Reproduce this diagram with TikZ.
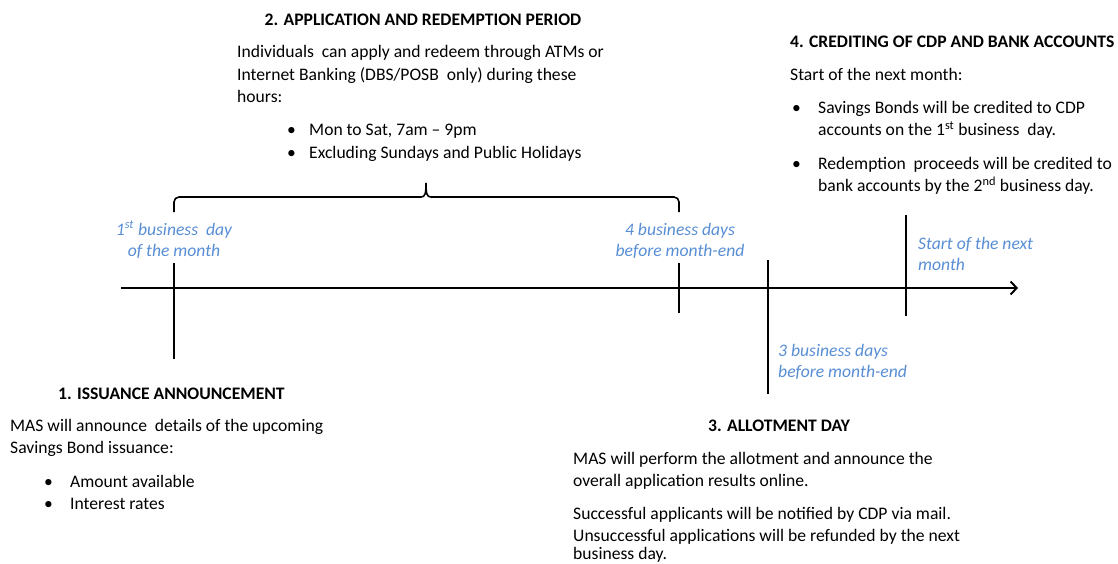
\documentclass[tikz,border=0pt]{standalone}
\usepackage{fontspec}
\setmainfont{Carlito}
\usetikzlibrary{arrows.meta}
\definecolor{lblue}{RGB}{88,142,213}
\begin{document}
\begin{tikzpicture}[x=1pt,y=-1pt,
  txt/.style={inner sep=0pt, anchor=base west, font=\fontsize{17.6}{20}\selectfont},
  ttl/.style={txt, font=\fontsize{17.6}{20}\selectfont\bfseries},
  lbl/.style={inner sep=0pt, anchor=base, font=\fontsize{17.6}{20}\selectfont\itshape, text=lblue},
  lbll/.style={lbl, anchor=base west},
  axisline/.style={line width=2pt},
  tickline/.style={line width=2pt},
  bracel/.style={line width=1.6pt},
]
\useasboundingbox (0,0) rectangle (1118,564);

% axis
\coordinate (ax0) at (121,288);
\coordinate (ax1) at (1018,288);
\draw[axisline, -{Straight Barb[length=6pt,width=13pt,line width=2pt]}] (ax0) -- (ax1);

% ticks
\coordinate (t1a) at (174,263); \coordinate (t1b) at (174,359);
\coordinate (t2a) at (679,263); \coordinate (t2b) at (679,313);
\coordinate (t3a) at (768,260); \coordinate (t3b) at (768,394);
\coordinate (t4a) at (906,215); \coordinate (t4b) at (906,316);
\draw[tickline] (t1a) -- (t1b);
\draw[tickline] (t2a) -- (t2b);
\draw[tickline] (t3a) -- (t3b);
\draw[tickline] (t4a) -- (t4b);

% brace
\coordinate (bl) at (174,212);
\coordinate (br) at (679,212);
\coordinate (bt) at (426,183);
\draw[bracel, rounded corners=5pt] (bl) -- (174,197) -- (421,197);
\draw[bracel, rounded corners=5pt] (br) -- (679,197) -- (431,197);
\draw[bracel] (421,197) .. controls (425,197) and (426,194) .. (bt);
\draw[bracel] (431,197) .. controls (427,197) and (426,194) .. (bt);

% blue labels
\node[lbl] (l1a) at (174,235) {1\textsuperscript{st} business\ \ day};
\node[lbl] (l1b) at (174,256) {of the month};
\node[lbl] (l2a) at (680,235) {4 business days};
\node[lbl] (l2b) at (680,256) {before month-end};
\node[lbll] (l4a) at (918,249) {Start of the next};
\node[lbll] (l4b) at (918,270) {month};
\node[lbll] (l3a) at (778,356) {3 business days};
\node[lbll] (l3b) at (778,377) {before month-end};

% block 2
\node[ttl, anchor=base] (h2) at (423,26) {2. APPLICATION AND REDEMPTION PERIOD};
\node[txt] (p2a) at (237,58) {Individuals\ \ can apply and redeem through ATMs or};
\node[txt] (p2b) at (237,81) {Internet Banking (DBS/POSB\ \ only) during these};
\node[txt] (p2c) at (237,103) {hours:};
\node[txt] (b2a) at (287,136) {\textbullet};
\node[txt] (p2d) at (309,136) {Mon to Sat, 7am -- 9pm};
\node[txt] (b2b) at (287,159) {\textbullet};
\node[txt] (p2e) at (309,159) {Excluding Sundays and Public Holidays};

% block 4
\node[ttl] (h4) at (790,48) {4. CREDITING OF CDP AND BANK ACCOUNTS};
\node[txt] (p4a) at (790,81) {Start of the next month:};
\node[txt] (b4a) at (792,114) {\textbullet};
\node[txt] (p4b) at (818,114) {Savings Bonds will be credited to CDP};
\node[txt] (p4c) at (818,136) {accounts on the 1\textsuperscript{st} business\ \ day.};
\node[txt] (b4b) at (792,170) {\textbullet};
\node[txt] (p4d) at (818,170) {Redemption\ \ proceeds will be credited to};
\node[txt] (p4e) at (818,192) {bank accounts by the 2\textsuperscript{nd} business day.};

% block 1
\node[ttl] (h1) at (58,399) {1. ISSUANCE ANNOUNCEMENT};
\node[txt] (p1a) at (10,431) {MAS will announce\ \ details of the upcoming};
\node[txt] (p1b) at (10,453) {Savings Bond issuance:};
\node[txt] (b1a) at (44,487) {\textbullet};
\node[txt] (p1c) at (70,487) {Amount available};
\node[txt] (b1b) at (44,509) {\textbullet};
\node[txt] (p1d) at (70,509) {Interest rates};

% block 3
\node[ttl] (h3) at (708,431) {3. ALLOTMENT DAY};
\node[txt] (p3a) at (573,464) {MAS will perform the allotment and announce the};
\node[txt] (p3b) at (573,486) {overall application results online.};
\node[txt] (p3c) at (573,519) {Successful applicants will be notified by CDP via mail.};
\node[txt] (p3d) at (573,541) {Unsuccessful applications will be refunded by the next};
\node[txt] (p3e) at (573,559.5) {business day.};
\end{tikzpicture}
\end{document}
